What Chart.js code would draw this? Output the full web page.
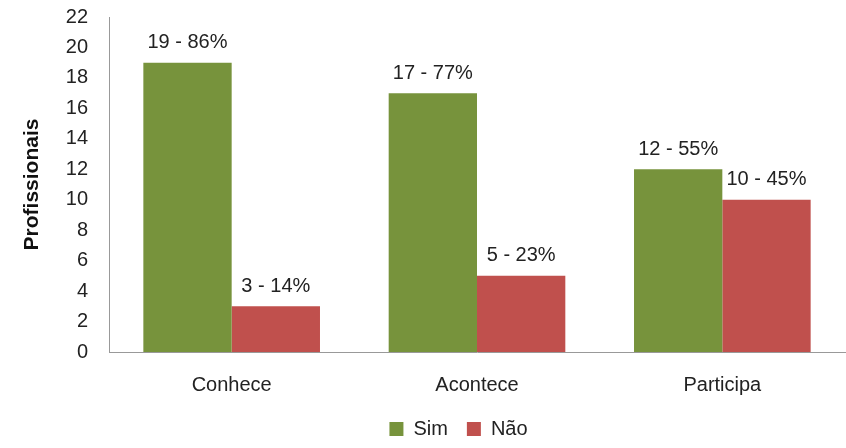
<!DOCTYPE html>
<html>
<head>
<meta charset="utf-8">
<script src="https://cdn.jsdelivr.net/npm/chart.js@4/dist/chart.umd.min.js"></script>
<style>
  html, body { margin: 0; padding: 0; background: #fff; }
  #wrap { width: 846px; height: 448px; }
</style>
</head>
<body>
<div id="wrap"><canvas id="chart"></canvas></div>
<script>
var categories = ["Conhece", "Acontece", "Participa"];
var simValues = [19, 17, 12];
var naoValues = [3, 5, 10];
var simLabels = ["19 - 86%", "17 - 77%", "12 - 55%"];
var naoLabels = ["3 - 14%", "5 - 23%", "10 - 45%"];
var yTicks = [0, 2, 4, 6, 8, 10, 12, 14, 16, 18, 20, 22];

var FONT = "'Liberation Sans', Arial, sans-serif";

// draws "n - x%" above each bar
var barLabels = {
    id: "barLabels",
    afterDatasetsDraw(chart) {
        var ctx = chart.ctx;
        ctx.save();
        ctx.font = "20px " + FONT;
        ctx.fillStyle = "#222";
        ctx.textAlign = "center";
        ctx.textBaseline = "bottom";
        chart.data.datasets.forEach(function (ds, i) {
            chart.getDatasetMeta(i).data.forEach(function (bar, j) {
                ctx.fillText(ds.labelsText[j], bar.x, bar.y - 10);
            });
        });
        ctx.restore();
    }
};

// nudges the legend a bit right, like the original
var legendShift = {
    id: "legendShift",
    beforeDraw(chart) {
        var lg = chart.legend;
        lg.left += 36;
        lg.right += 36;
        lg.top += 1;
        lg.bottom += 1;
    }
};

new Chart(document.querySelector("#chart"), {
    type: "bar",
    data: {
        labels: categories,
        datasets: [{
            label: "Sim",
            data: simValues,
            labelsText: simLabels,
            backgroundColor: "#77933C"
        }, {
            label: "Não",
            data: naoValues,
            labelsText: naoLabels,
            backgroundColor: "#C0504D"
        }]
    },
    options: {
        responsive: true,
        maintainAspectRatio: false,
        animation: false,
        layout: { padding: { top: 17, right: 1, left: 0, bottom: 0 } },
        datasets: { bar: { categoryPercentage: 0.72, barPercentage: 1 } },
        scales: {
            x: {
                grid: { display: false },
                border: { color: "#999" },
                ticks: { color: "#222", font: { family: FONT, size: 20 }, padding: 13 },
                afterFit: function (scale) {
                    scale.height = 47;
                    scale.paddingLeft = 0;
                    scale.paddingRight = 0;
                }
            },
            y: {
                min: 0,
                max: 22,
                afterBuildTicks: function (axis) {
                    axis.ticks = yTicks.map(function (v) { return { value: v }; });
                },
                grid: { display: false },
                border: { color: "#999" },
                ticks: { color: "#222", font: { family: FONT, size: 20 }, padding: 13 },
                title: {
                    display: true,
                    text: "Profissionais",
                    color: "#111",
                    font: { family: FONT, size: 21, weight: "bold" },
                    padding: { top: 20, bottom: 0 }
                },
                afterFit: function (scale) {
                    scale.width = 109;
                    scale.paddingTop = 0;
                    scale.paddingBottom = 0;
                }
            }
        },
        plugins: {
            legend: {
                position: "bottom",
                labels: {
                    color: "#222",
                    font: { family: FONT, size: 20 },
                    boxWidth: 14,
                    boxHeight: 14,
                    padding: 19
                }
            },
            tooltip: { enabled: false }
        }
    },
    plugins: [barLabels, legendShift]
});
</script>
</body>
</html>
